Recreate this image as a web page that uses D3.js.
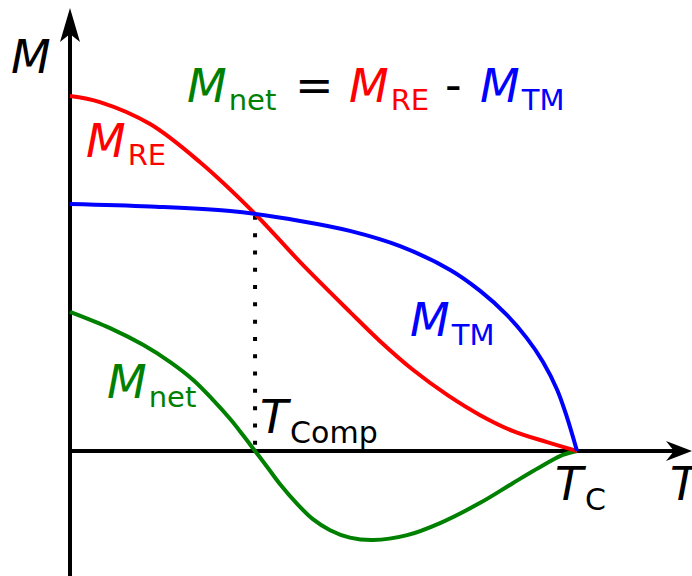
<!DOCTYPE html>
<html>
<head>
<meta charset="utf-8">
<script src="https://cdn.jsdelivr.net/npm/d3@7"></script>
<style>
  html, body { margin: 0; padding: 0; background: #fff; }
  svg { display: block; font-family: "DejaVu Sans", Verdana, sans-serif; }
</style>
</head>
<body>
<svg id="chart" width="692" height="576"></svg>
<script>
// Reduced temperature T/Tc and sublattice magnetisations (in units of M_RE at T = 0)
const tRE  = [0, 0.059, 0.158, 0.256, 0.365, 0.454, 0.552, 0.611, 0.677, 0.744, 0.809, 0.874, 0.941, 1];
const mRE  = [1.0, 0.983, 0.921, 0.814, 0.668, 0.532, 0.392, 0.310, 0.228, 0.158, 0.101, 0.056, 0.025, 0];

const tTM  = [0, 0.158, 0.316, 0.454, 0.552, 0.651, 0.750, 0.809, 0.862, 0.901, 0.933, 0.961, 0.980, 1];
const mTM  = [0.696, 0.689, 0.676, 0.648, 0.620, 0.577, 0.510, 0.451, 0.383, 0.318, 0.251, 0.172, 0.096, 0];

const tNet = [0, 0.079, 0.144, 0.197, 0.243, 0.282, 0.316, 0.341, 0.365, 0.389, 0.414, 0.448,
              0.479, 0.513, 0.552, 0.598, 0.665, 0.730, 0.809, 0.874, 0.941, 0.972, 1];
const mNet = [0.392, 0.346, 0.299, 0.251, 0.200, 0.144, 0.090, 0.045, 0, -0.045, -0.093, -0.149,
              -0.192, -0.223, -0.244, -0.251, -0.237, -0.203, -0.146, -0.090, -0.034, -0.011, 0];

const tComp = 0.365;   // compensation temperature
const mComp = 0.668;   // where the two sublattice curves cross

const svg = d3.select("#chart");

const x = d3.scaleLinear().domain([0, 1]).range([70, 577]);
const y = d3.scaleLinear().domain([0, 1]).range([451, 96]);

const colors = { re: "#ff0000", tm: "#0000ff", net: "#008000" };

// axes with arrow heads
svg.append("line")
  .attr("x1", x(0)).attr("x2", x(0))
  .attr("y1", 576).attr("y2", 30)
  .attr("stroke", "#000").attr("stroke-width", 4);
svg.append("path")
  .attr("d", `M${x(0)},8 L${x(0) + 10},42 L${x(0)},34 L${x(0) - 10},42 Z`)
  .attr("fill", "#000");

svg.append("line")
  .attr("x1", x(0)).attr("x2", 680)
  .attr("y1", y(0)).attr("y2", y(0))
  .attr("stroke", "#000").attr("stroke-width", 4);
svg.append("path")
  .attr("d", `M692,${y(0)} L666,${y(0) - 10} L674,${y(0)} L666,${y(0) + 10} Z`)
  .attr("fill", "#000");

// dotted marker at the compensation point
svg.append("line")
  .attr("x1", x(tComp)).attr("x2", x(tComp))
  .attr("y1", y(mComp) + 2).attr("y2", y(0))
  .attr("stroke", "#000").attr("stroke-width", 4)
  .attr("stroke-dasharray", "4,13.3");

const line = d3.line()
  .x(d => x(d[0]))
  .y(d => y(d[1]))
  .curve(d3.curveCatmullRom.alpha(0.5));

function drawCurve(ts, ms, color) {
  svg.append("path")
    .datum(ts.map((t, i) => [t, ms[i]]))
    .attr("d", line)
    .attr("fill", "none")
    .attr("stroke", color)
    .attr("stroke-width", 4)
    .attr("stroke-linejoin", "round");
}
drawCurve(tNet, mNet, colors.net);
drawCurve(tRE, mRE, colors.re);
drawCurve(tTM, mTM, colors.tm);

// symbol with upright subscript
function symbol(g, px, py, main, sub, color, size, subSize, dy) {
  const t = g.append("text")
    .attr("x", px).attr("y", py)
    .attr("fill", color);
  t.append("tspan").text(main)
    .attr("font-style", "italic")
    .attr("font-size", size);
  if (sub) {
    t.append("tspan").text(sub)
      .attr("font-size", subSize)
      .attr("dx", 2)
      .attr("dy", dy);
  }
  return t;
}

const MS = 46, SS = 29;

// axis titles
symbol(svg, 11, 73, "M", null, "#000", MS);
symbol(svg, 670, 500, "T", null, "#000", MS);

// equation
symbol(svg, 187, 102, "M", "net", colors.net, MS, SS, 8);
svg.append("text").attr("x", 295).attr("y", 101)
  .attr("font-size", MS).attr("fill", "#000").text("=");
symbol(svg, 349, 102, "M", "RE", colors.re, MS, SS, 8);
svg.append("text").attr("x", 445).attr("y", 101)
  .attr("font-size", MS).attr("fill", "#000").text("-");
symbol(svg, 480, 102, "M", "TM", colors.tm, MS, SS, 8);

// curve labels
symbol(svg, 86, 157, "M", "RE", colors.re, MS, SS, 8);
symbol(svg, 410, 336, "M", "TM", colors.tm, MS, SS, 9);
symbol(svg, 107, 398, "M", "net", colors.net, MS, SS, 9);

// temperature markers
symbol(svg, 260, 433, "T", "Comp", "#000", MS, 30, 10);
symbol(svg, 555, 500, "T", "C", "#000", MS, 30, 10);
</script>
</body>
</html>
